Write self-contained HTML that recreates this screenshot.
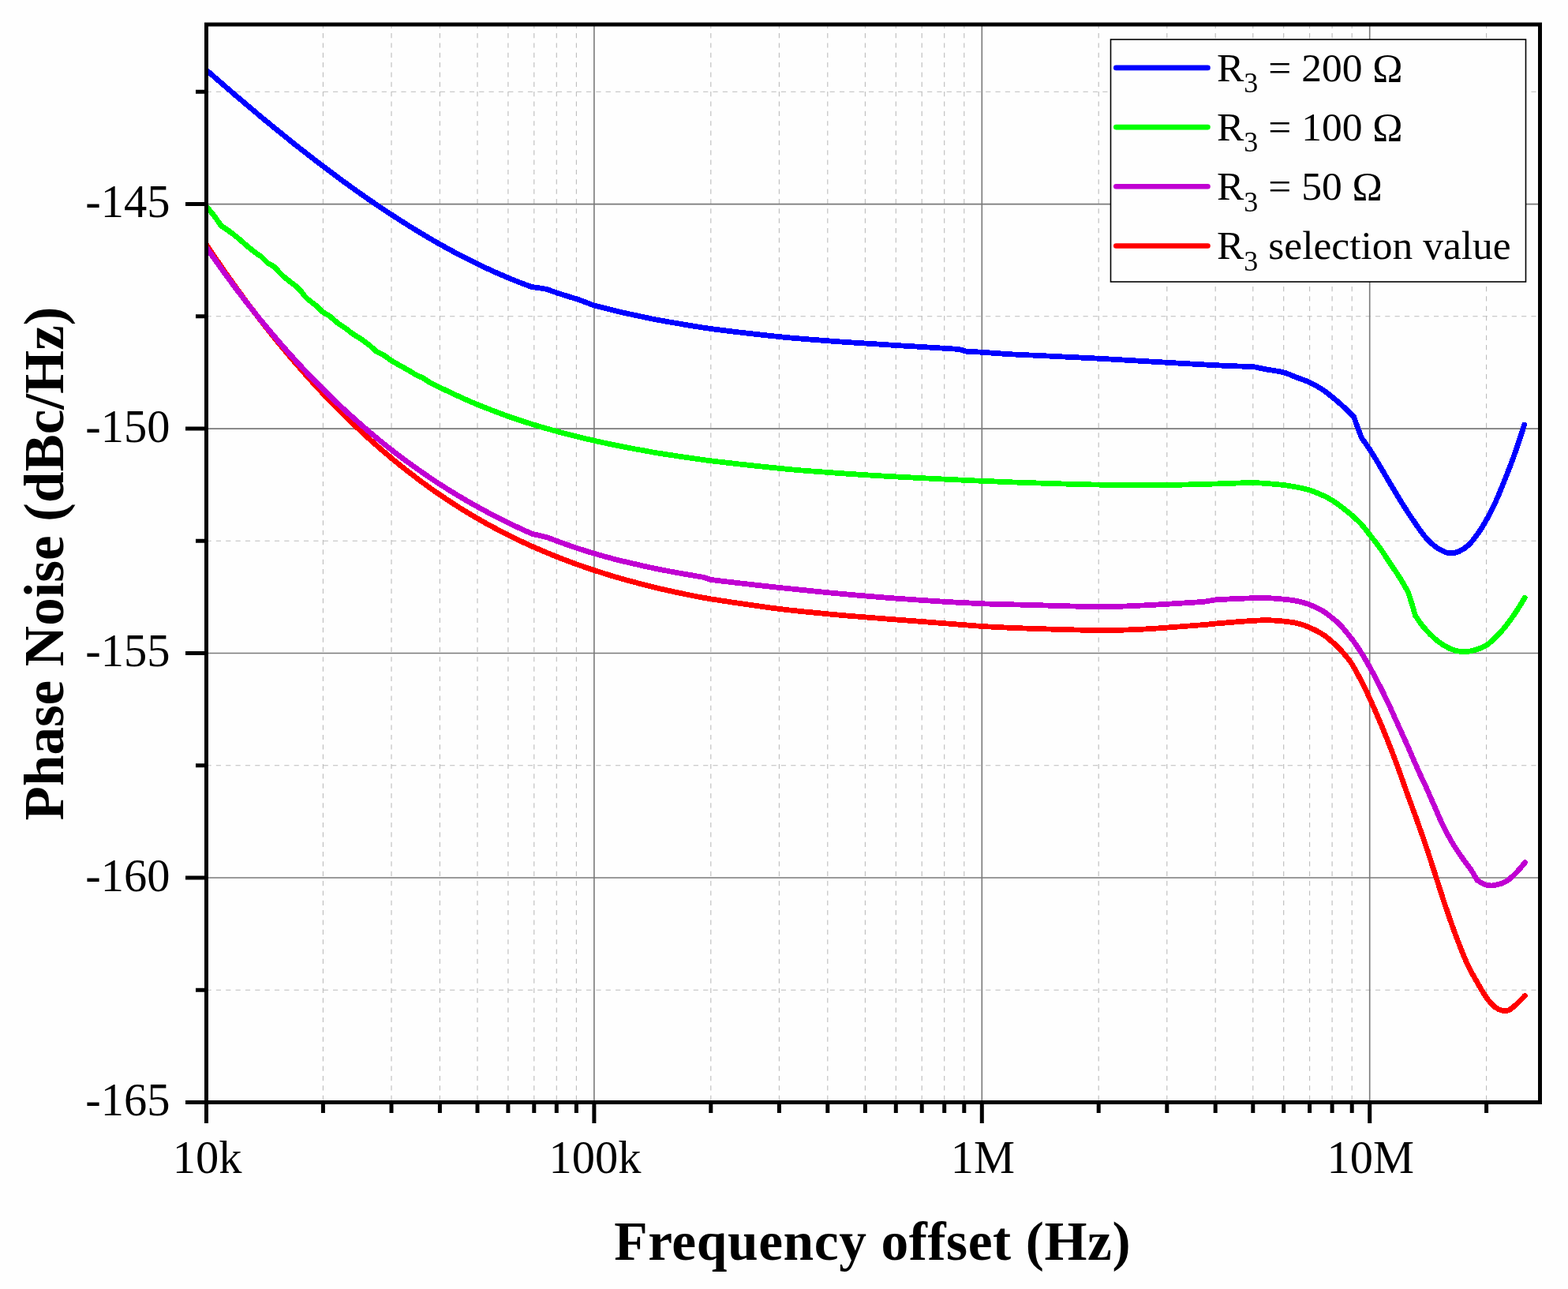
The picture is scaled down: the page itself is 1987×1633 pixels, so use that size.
<!DOCTYPE html><html><head><meta charset="utf-8"><title>Phase Noise</title><style>html,body{margin:0;padding:0;background:#fff;}svg{display:block;}text{font-family:"Liberation Serif","Times New Roman",serif;fill:#000;}</style></head><body><svg width="1987" height="1633" viewBox="0 0 1987 1633"><rect x="0" y="0" width="1987" height="1633" fill="#fefefe"/><path d="M409.4,29.7 V1396.5 M496,29.7 V1396.5 M557.4,29.7 V1396.5 M605,29.7 V1396.5 M643.9,29.7 V1396.5 M676.8,29.7 V1396.5 M705.3,29.7 V1396.5 M730.4,29.7 V1396.5 M900.8,29.7 V1396.5 M987.4,29.7 V1396.5 M1048.8,29.7 V1396.5 M1096.4,29.7 V1396.5 M1135.3,29.7 V1396.5 M1168.2,29.7 V1396.5 M1196.7,29.7 V1396.5 M1221.8,29.7 V1396.5 M1392.2,29.7 V1396.5 M1478.8,29.7 V1396.5 M1540.2,29.7 V1396.5 M1587.8,29.7 V1396.5 M1626.7,29.7 V1396.5 M1659.6,29.7 V1396.5 M1688.1,29.7 V1396.5 M1713.2,29.7 V1396.5 M1883.6,29.7 V1396.5 M261.5,116.3 H1951.5 M261.5,400.8 H1951.5 M261.5,685.3 H1951.5 M261.5,969.8 H1951.5 M261.5,1254.3 H1951.5" stroke="#bcbcbc" stroke-width="1.1" stroke-dasharray="6.2 6.145" fill="none"/><path d="M752.9,31 V1396.5 M1244.3,31 V1396.5 M1735.7,31 V1396.5 M261.5,258.6 H1951.5 M261.5,543.1 H1951.5 M261.5,827.5 H1951.5 M261.5,1112 H1951.5" stroke="#7a7a7a" stroke-width="1.6" fill="none"/><defs><clipPath id="pc"><rect x="261.5" y="0" width="1725.5" height="1633"/></clipPath></defs><g clip-path="url(#pc)"><path d="M261.5,310 C261.9,310.6 260,307.8 263.8,313.4 C267.6,319 278,334.4 284.4,343.6 C290.8,352.8 296.3,360.4 302.3,368.7 C308.3,377 314.5,385.2 320.6,393.3 C326.7,401.4 332.9,409.3 339,417 C345.1,424.8 351.3,432.4 357.4,439.8 C363.5,447.2 369.7,454.4 375.8,461.5 C381.9,468.6 388.5,475.9 394.1,482.1 C399.7,488.3 404.3,493.2 409.4,498.7 C414.5,504.1 419.7,509.5 424.8,514.7 C429.9,519.8 434.4,524.4 440,529.8 C445.6,535.2 452.3,541.6 458.4,547.3 C464.5,553 470.5,558.4 476.7,563.9 C482.9,569.3 489.7,575.1 495.8,580.2 C501.9,585.3 506.1,588.8 513.5,594.5 C520.9,600.3 532.7,609.2 540,614.6 C547.3,620 551.3,622.7 557.4,626.8 C563.5,631 570.5,635.6 576.4,639.4 C582.2,643.2 587.8,646.6 592.5,649.4 C597.2,652.3 599.1,653.5 604.5,656.5 C609.9,659.6 618.2,664.3 624.7,667.8 C631.2,671.3 636.9,674.3 643.6,677.6 C650.3,681 659.4,685.3 664.9,687.9 C670.4,690.5 669.9,690.3 676.6,693.2 C683.4,696.1 696.4,701.7 705.4,705.3 C714.4,708.9 722.8,712 730.6,714.8 C738.5,717.6 743,719.3 752.5,722.3 C762,725.4 775.5,729.7 787.7,733.2 C799.9,736.6 816.8,740.9 825.5,743.2 C834.2,745.4 833.5,745.2 840,746.6 C846.5,748.1 854.1,749.9 864.2,751.9 C874.3,753.9 879.9,755.5 900.4,758.8 C920.9,762 962.5,768.2 987.3,771.4 C1012.1,774.5 1030.8,776 1049,777.8 C1067.2,779.6 1076.6,780.3 1096.5,781.9 C1116.4,783.5 1147.6,785.9 1168.5,787.5 C1189.4,789.1 1208.2,790.6 1221.8,791.7 C1235.4,792.7 1236.9,793 1250,793.8 C1263.1,794.5 1276.7,795.3 1300.4,796.1 C1324.1,796.9 1368.7,798.3 1392.2,798.5 C1415.7,798.7 1426.8,798.1 1441.3,797.5 C1455.8,796.9 1464.9,796.1 1479,795.1 C1493.1,794.1 1515.7,792.3 1525.9,791.5 C1536.1,790.7 1529.9,791 1540.2,790.1 C1550.5,789.2 1576.5,787.1 1587.9,786.4 C1599.3,785.7 1601.4,785.6 1608.4,785.8 C1615.4,786 1624.2,786.8 1630,787.4 C1635.8,788 1638.6,788.3 1643.5,789.5 C1648.4,790.7 1653.8,792.3 1659.4,794.8 C1665,797.3 1672.5,801.3 1677.2,804.3 C1682,807.3 1684.5,810.1 1687.9,813 C1691.3,815.9 1693.2,817.1 1697.4,821.8 C1701.6,826.5 1707.7,832.7 1713.2,841.3 C1718.7,849.9 1725.3,863.2 1730.4,873.5 C1735.5,883.8 1739.4,892.9 1743.9,903.2 C1748.4,913.5 1752.9,924.3 1757.4,935.5 C1761.9,946.7 1766.4,958.5 1770.9,970.6 C1775.4,982.7 1780.3,997.3 1784.3,1008.3 C1788.3,1019.3 1790.8,1025.8 1794.7,1036.7 C1798.6,1047.6 1803.6,1061.7 1807.6,1073.5 C1811.6,1085.3 1814.6,1095.2 1818.6,1107.5 C1822.6,1119.8 1827.1,1134.3 1831.4,1147 C1835.7,1159.7 1839.7,1171.5 1844.3,1183.7 C1848.9,1195.9 1854.4,1210.3 1859,1220.4 C1863.6,1230.5 1867.8,1237.2 1871.8,1244.3 C1875.8,1251.3 1879.2,1257.5 1882.9,1262.7 C1886.6,1267.9 1890.2,1272.5 1893.9,1275.5 C1897.6,1278.5 1901.8,1279.9 1904.9,1280.6 C1908,1281.3 1909.5,1280.8 1912.3,1279.5 C1915,1278.2 1918.1,1275.5 1921.4,1272.5 C1924.7,1269.5 1930.5,1263.3 1932.3,1261.5" stroke="#ff0000" stroke-width="6.8" fill="none" stroke-linejoin="round" stroke-linecap="round" shape-rendering="crispEdges"/><path d="M261.5,313.5 C261.9,314.1 260,311.4 263.8,316.8 C267.6,322.2 278,337 284.4,345.8 C290.8,354.6 296.3,361.9 302.3,369.9 C308.3,377.8 314.5,385.7 320.6,393.4 C326.7,401.1 332.9,408.6 339,416 C345.1,423.3 351.3,430.5 357.4,437.5 C363.5,444.5 369.7,451.4 375.8,458.1 C381.9,464.8 388.5,471.7 394.1,477.6 C399.7,483.4 404.3,488.1 409.4,493.2 C414.5,498.3 419.7,503.3 424.8,508.2 C429.9,513.1 434.4,517.3 440,522.4 C445.6,527.5 452.3,533.5 458.4,538.8 C464.5,544.2 470.5,549.2 476.7,554.4 C482.9,559.5 489.7,564.9 495.8,569.7 C501.9,574.5 506.1,577.7 513.5,583.1 C520.9,588.5 532.7,596.9 540,601.9 C547.3,607 551.3,609.6 557.4,613.5 C563.5,617.4 570.5,621.8 576.4,625.4 C582.2,629 587.8,632.2 592.5,634.9 C597.2,637.7 599.1,638.8 604.5,641.7 C609.9,644.7 618.2,649.2 624.7,652.6 C631.2,656 636.9,658.8 643.6,662.1 C650.3,665.4 659.8,669.8 664.9,672.1 C670,674.5 671,674.8 674,676.2 C680.5,677.7 687.1,679.3 693.6,680.8 C697.5,682.3 699.2,683.1 705.4,685.3 C711.6,687.6 722.8,691.6 730.6,694.2 C738.5,696.8 744.1,698.6 752.5,701.1 C760.9,703.5 770.1,706.2 781.2,709 C792.3,711.8 809.1,715.6 818.9,717.8 C828.7,720 832.5,720.7 840,722.2 C847.5,723.6 855.6,725.1 864.2,726.7 C872.9,728.2 882.7,729.8 891.9,731.4 C894.7,732.4 897.6,733.4 900.4,734.4 C908.4,735.4 914.6,736.1 924.5,737.3 C934.4,738.5 949.5,740.2 960,741.4 C970.5,742.6 972.5,742.8 987.3,744.4 C1002.1,745.9 1030.8,748.9 1049,750.7 C1067.2,752.5 1082.1,753.8 1096.5,755 C1110.9,756.2 1118.8,756.9 1135.5,758.1 C1152.2,759.4 1181.9,761.3 1196.9,762.3 C1211.9,763.2 1216.8,763.4 1225.6,763.8 C1234.4,764.3 1237.5,764.6 1250,765 C1262.5,765.4 1276.7,765.7 1300.4,766.3 C1324.1,766.9 1368.7,768.5 1392.2,768.7 C1415.7,768.9 1426.8,767.9 1441.3,767.3 C1455.8,766.7 1464.9,766.1 1479,765.3 C1493.1,764.5 1510.3,763.3 1525.9,762.3 C1530.7,761.5 1535.4,760.7 1540.2,759.9 C1547.5,759.5 1554.1,759.1 1562.1,758.7 C1570,758.4 1580.2,757.9 1587.9,757.8 C1595.6,757.6 1601.4,757.5 1608.4,757.8 C1615.4,758.1 1624.2,758.9 1630,759.5 C1635.8,760.1 1638.6,760.4 1643.5,761.5 C1648.4,762.6 1653.8,763.7 1659.4,765.9 C1665,768.1 1672.5,771.8 1677.2,774.6 C1682,777.4 1684.5,780 1687.9,782.7 C1691.3,785.4 1693.2,786.3 1697.4,790.8 C1701.6,795.3 1708.7,803.9 1713.2,809.7 C1717.7,815.5 1721.4,821.4 1724.3,825.8 C1727.2,830.1 1727.1,830.1 1730.4,835.8 C1733.7,841.5 1739.4,851.6 1743.9,860.1 C1748.4,868.6 1752.9,877.6 1757.4,887 C1761.9,896.4 1766.4,906.8 1770.9,916.7 C1775.4,926.6 1779.8,936.2 1784.3,946.3 C1788.8,956.4 1794.2,969.3 1797.8,977.3 C1801.4,985.2 1802.5,987 1805.7,994 C1808.9,1001 1813,1010.7 1816.7,1019 C1820.4,1027.3 1823.8,1035.8 1827.8,1044 C1831.8,1052.2 1836.3,1060.8 1840.6,1068 C1844.9,1075.2 1849.5,1081.8 1853.5,1087.5 C1857.5,1093.2 1861.5,1097.9 1864.5,1102.5 C1867.5,1107.1 1869.4,1111 1871.8,1115.2 C1875.5,1117.1 1879.2,1119.9 1882.9,1121 C1886.6,1122.1 1889.6,1122.3 1893.9,1121.6 C1898.2,1120.9 1904,1119.3 1908.6,1116.6 C1913.2,1113.9 1917.4,1109.6 1921.4,1105.6 C1925.4,1101.6 1930.7,1094.9 1932.5,1092.8" stroke="#c000d2" stroke-width="6.8" fill="none" stroke-linejoin="round" stroke-linecap="round" shape-rendering="crispEdges"/><path d="M261.5,261.5 C261.9,261.9 261.9,261.9 263.8,264.2 C265.7,266.4 269.9,271.4 272.6,275 C275.3,278.6 277.5,282.2 280,285.8 C283.1,287.9 285.6,289.4 289.3,292.1 C293,294.8 297.9,298.5 302,301.9 C306.1,305.2 309.9,308.9 313.8,312.2 C317.7,315.5 322.6,319.3 325.5,321.5 C328.4,323.7 329.1,323.4 331.4,325.4 C333.7,327.4 336.7,330.7 339.3,333.3 C342.2,334.9 345.2,336.6 348.1,338.2 C351.4,341.8 353.8,345.2 357.9,349 C362,352.8 369,357.8 372.6,360.7 C376.2,363.6 376.8,363.8 379.4,366.6 C382,369.4 384.9,374 388.3,377.4 C391.7,380.8 396.6,383.8 400,386.8 C403.4,389.8 405.9,392.5 408.9,395.3 C411.8,397 414.5,398.1 417.7,400.5 C420.9,402.9 424.8,406.8 428.2,409.4 C431.6,411.9 434.7,413.6 437.8,415.8 C440.9,418 443.3,420.4 446.7,422.7 C450.1,425 454.4,427.4 458,429.9 C461.6,432.4 465.2,435 468.4,437.6 C471.6,440.2 474.3,442.9 477.3,445.6 C480.5,447.2 483.8,448.6 487,450.5 C490.2,452.4 493,455 496.6,457.3 C500.2,459.6 504.7,461.8 508.7,464.1 C512.7,466.4 517.7,469.2 520.8,471 C523.9,472.8 525.1,473.7 527.2,475 C530.2,476.3 533.2,477.4 536.1,479 C539,480.6 540.9,482.5 544.9,484.7 C548.9,486.9 553,488.8 560,492.1 C567,495.4 579.4,501.3 586.9,504.7 C594.4,508.1 595.5,508.7 605,512.5 C614.5,516.3 631.6,523 643.6,527.3 C655.6,531.6 666.5,535 676.8,538.2 C687.1,541.4 696.3,544 705.3,546.4 C714.2,548.9 722.6,551 730.5,553 C738.4,554.9 745.3,556.5 752.7,558.2 C760.1,559.9 767.9,561.5 775,563 C782.1,564.5 787.7,565.6 795.3,567.1 C802.9,568.5 813.2,570.4 820.8,571.7 C828.3,573.1 827.2,573.1 840.6,575.1 C854,577.1 876.5,580.8 901,583.8 C925.5,586.8 966.3,591.2 987.3,593.3 C1008.3,595.5 1008.6,595.4 1026.8,596.8 C1045,598.2 1072.9,600.2 1096.5,601.7 C1120.1,603.2 1147.6,604.6 1168.5,605.7 C1189.4,606.8 1208.2,607.6 1221.8,608.3 C1235.4,608.9 1236.9,609 1250,609.5 C1263.1,610 1276.7,610.8 1300.4,611.5 C1324.1,612.3 1362.4,613.6 1392.2,614.1 C1422,614.6 1454.3,614.6 1479,614.4 C1503.7,614.2 1522,613.4 1540.2,613 C1558.4,612.5 1574.6,611.5 1587.9,611.7 C1601.2,611.8 1611.4,613 1620,613.8 C1628.6,614.6 1632.7,615.2 1639.3,616.4 C1645.9,617.6 1653.7,619.2 1659.5,620.9 C1665.3,622.6 1669.3,624.5 1674,626.6 C1678.7,628.7 1683.2,630.8 1687.9,633.7 C1692.6,636.6 1698.1,640.8 1702.3,644 C1706.5,647.2 1709.3,649.6 1713.2,653 C1717.1,656.4 1721.7,660.5 1725.4,664.6 C1729.2,668.7 1731.8,672.5 1735.7,677.4 C1739.6,682.3 1744.3,688.1 1748.6,694.1 C1752.9,700.1 1757.1,707 1761.4,713.4 C1765.7,719.8 1770.5,726.6 1774.3,732.7 C1778.1,738.8 1781,744.2 1784.3,750 C1786.1,755.5 1788.2,761.6 1789.7,766.6 C1791.2,771.6 1792.2,775.5 1793.5,780 C1797.1,784.9 1799.7,789.6 1804.2,794.7 C1808.7,799.9 1814.9,806.5 1820.3,810.9 C1825.7,815.3 1831,818.8 1836.4,821.3 C1841.8,823.8 1847.1,825.3 1852.5,825.7 C1857.9,826.1 1863.4,825.1 1868.6,823.7 C1873.8,822.3 1879.2,820.2 1883.9,817.3 C1888.6,814.3 1892.6,810.2 1896.7,806 C1900.8,801.8 1904.8,797.4 1908.8,792.3 C1912.8,787.2 1917,781.2 1920.9,775.4 C1924.8,769.6 1930.3,760.3 1932.2,757.3" stroke="#00ff00" stroke-width="6.8" fill="none" stroke-linejoin="round" stroke-linecap="round" shape-rendering="crispEdges"/><path d="M261.5,88.7 C261.9,89 259.4,86.8 263.8,90.7 C268.2,94.6 280.4,105.2 288.1,111.8 C295.8,118.5 302.8,124.4 310.1,130.6 C317.5,136.9 324.9,143.1 332.2,149.2 C339.5,155.3 346.8,161.3 354.2,167.2 C361.6,173.2 368.9,179.1 376.3,185 C383.7,190.8 392.8,197.9 398.3,202.1 C403.8,206.4 405.7,207.8 409.4,210.6 C413.1,213.4 415.3,215.1 420.4,218.9 C425.5,222.7 434.3,229.2 440,233.3 C445.7,237.5 449.8,240.4 454.7,243.8 C459.6,247.3 464.5,250.7 469.4,254.1 C474.3,257.5 479.7,261.1 484.1,264.1 C488.5,267 489.7,267.9 495.8,271.8 C501.9,275.7 513,282.9 520.5,287.5 C528,292.2 534.5,296 540.6,299.7 C546.8,303.3 550.7,305.6 557.4,309.4 C564.1,313.1 573,318 580.9,322.2 C588.8,326.3 597.2,330.6 604.7,334.2 C612.2,337.9 619.6,341.3 626.1,344.2 C632.6,347.1 637.9,349.4 643.6,351.8 C649.3,354.2 655.3,356.6 660.3,358.5 C665.2,360.4 669,361.7 673.3,363.3 C679.7,364.3 686.1,365.3 692.5,366.3 C696.8,367.8 700.7,369.4 705.4,370.9 C710.1,372.5 715.6,374.1 720.7,375.7 C725.8,377.3 730.8,378.7 735.8,380.5 C740.8,382.3 745.9,384.4 750.9,386.4 C755.9,387.7 759.3,388.7 766,390.3 C772.7,392 782.1,394.3 791.1,396.4 C800.1,398.4 811.8,400.9 820,402.6 C828.2,404.3 827.1,404.3 840.6,406.6 C854.1,408.9 876.5,413.1 901,416.5 C925.5,419.8 962.6,424 987.3,426.6 C1012,429.1 1030.8,430.4 1049,431.8 C1067.2,433.2 1082.1,434.1 1096.5,435 C1110.9,436 1123.4,436.7 1135.4,437.5 C1147.4,438.2 1158.1,438.9 1168.3,439.5 C1178.5,440.1 1189,440.8 1196.7,441.3 C1204.4,441.7 1208.6,442 1214.6,442.4 C1218.3,443.4 1222,444.4 1225.7,445.4 C1231.7,445.7 1234.6,445.6 1243.8,446.2 C1253,446.8 1268.3,448.1 1281,448.8 C1293.7,449.5 1301.5,449.7 1320,450.6 C1338.5,451.5 1365.7,452.8 1392.2,454.2 C1418.7,455.6 1454.3,457.9 1479,459.3 C1503.7,460.7 1525,461.9 1540.2,462.7 C1555.4,463.5 1562.1,463.7 1570,464 C1577.9,464.3 1582.2,464 1587.7,464.6 C1593.2,465.2 1596.2,466.4 1602.7,467.6 C1609.2,468.8 1620,470.1 1626.6,471.8 C1633.1,473.5 1636.5,475.6 1642,477.7 C1647.5,479.8 1653.8,481.8 1659.3,484.3 C1664.8,486.8 1670,489.8 1674.7,492.8 C1679.5,495.9 1683.6,499.2 1687.8,502.6 C1692,506 1695.4,508.8 1700,513 C1704.6,517.2 1710.3,522.9 1715.4,527.8 C1718.7,536.6 1721.9,545.5 1725.2,554.3 C1729.5,560.5 1733.4,565.7 1738,572.9 C1742.6,580.1 1747.4,588.4 1752.7,597.4 C1758,606.4 1765.2,618.6 1770,626.6 C1774.8,634.6 1777.7,639.2 1781.6,645.2 C1785.5,651.2 1789.4,657.1 1793.3,662.7 C1797.2,668.3 1801,674.2 1804.9,678.9 C1808.8,683.5 1812.6,687.4 1816.5,690.6 C1820.4,693.8 1824.7,696.4 1828.2,698.1 C1831.7,699.8 1834,700.7 1837.5,700.8 C1841,700.9 1845.2,700.2 1849.1,698.5 C1853,696.8 1856.9,694.2 1860.8,690.6 C1864.7,687 1868.5,682 1872.4,676.6 C1876.3,671.2 1880.1,665 1884,658 C1887.9,651 1891.8,643.2 1895.7,634.7 C1899.6,626.2 1903.4,616.5 1907.3,606.8 C1911.2,597.1 1914.8,588 1918.9,576.5 C1923,565 1929.6,544.5 1931.7,538.1" stroke="#0000ff" stroke-width="6.8" fill="none" stroke-linejoin="round" stroke-linecap="round" shape-rendering="crispEdges"/></g><rect x="261.5" y="31" width="1690" height="1365.5" fill="none" stroke="#000" stroke-width="5"/><path d="M235,258.6 H261.5 M235,543.1 H261.5 M235,827.5 H261.5 M235,1112 H261.5 M235,1396.5 H261.5 M248,116.3 H261.5 M248,400.8 H261.5 M248,685.3 H261.5 M248,969.8 H261.5 M248,1254.3 H261.5 M261.5,1396.5 V1423 M752.9,1396.5 V1423 M1244.3,1396.5 V1423 M1735.7,1396.5 V1423 M409.4,1396.5 V1410 M496,1396.5 V1410 M557.4,1396.5 V1410 M605,1396.5 V1410 M643.9,1396.5 V1410 M676.8,1396.5 V1410 M705.3,1396.5 V1410 M730.4,1396.5 V1410 M900.8,1396.5 V1410 M987.4,1396.5 V1410 M1048.8,1396.5 V1410 M1096.4,1396.5 V1410 M1135.3,1396.5 V1410 M1168.2,1396.5 V1410 M1196.7,1396.5 V1410 M1221.8,1396.5 V1410 M1392.2,1396.5 V1410 M1478.8,1396.5 V1410 M1540.2,1396.5 V1410 M1587.8,1396.5 V1410 M1626.7,1396.5 V1410 M1659.6,1396.5 V1410 M1688.1,1396.5 V1410 M1713.2,1396.5 V1410 M1883.6,1396.5 V1410" stroke="#000" stroke-width="5" fill="none"/><text x="215.5" y="275.2" font-size="58.5" text-anchor="end">-145</text><text x="215.5" y="559.7" font-size="58.5" text-anchor="end">-150</text><text x="215.5" y="844.1" font-size="58.5" text-anchor="end">-155</text><text x="215.5" y="1128.6" font-size="58.5" text-anchor="end">-160</text><text x="215.5" y="1413.1" font-size="58.5" text-anchor="end">-165</text><text x="262.5" y="1486" font-size="58.5" text-anchor="middle">10k</text><text x="753.9" y="1486" font-size="58.5" text-anchor="middle">100k</text><text x="1245.3" y="1486" font-size="58.5" text-anchor="middle">1M</text><text x="1736.7" y="1486" font-size="58.5" text-anchor="middle">10M</text><text x="1105.7" y="1596" font-size="69.4" font-weight="bold" text-anchor="middle" letter-spacing="0.6">Frequency offset (Hz)</text><text transform="translate(80,714) rotate(-90)" x="0" y="0" font-size="71" font-weight="bold" text-anchor="middle">Phase Noise (dBc/Hz)</text><rect x="1407.5" y="50" width="526" height="307" fill="#fefefe" stroke="#000" stroke-width="1.6"/><path d="M1414.3,85.9 H1530.5" stroke="#0000ff" stroke-width="6.6" stroke-linecap="round"/><text x="1542" y="102.6" font-size="51.5">R<tspan font-size="36" dy="14.5">3</tspan><tspan dy="-14.5"> = 200 Ω</tspan></text><path d="M1414.3,161.1 H1530.5" stroke="#00ff00" stroke-width="6.6" stroke-linecap="round"/><text x="1542" y="177.8" font-size="51.5">R<tspan font-size="36" dy="14.5">3</tspan><tspan dy="-14.5"> = 100 Ω</tspan></text><path d="M1414.3,236.3 H1530.5" stroke="#c000d2" stroke-width="6.6" stroke-linecap="round"/><text x="1542" y="253" font-size="51.5">R<tspan font-size="36" dy="14.5">3</tspan><tspan dy="-14.5"> = 50 Ω</tspan></text><path d="M1414.3,311.5 H1530.5" stroke="#ff0000" stroke-width="6.6" stroke-linecap="round"/><text x="1542" y="328.2" font-size="51.5">R<tspan font-size="36" dy="14.5">3</tspan><tspan dy="-14.5"> selection value</tspan></text></svg></body></html>
